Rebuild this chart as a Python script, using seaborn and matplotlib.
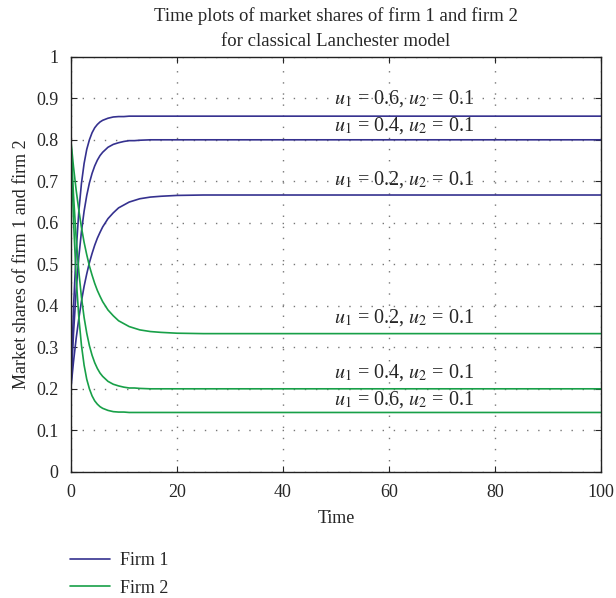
import pandas as pd
import numpy as np
import matplotlib
matplotlib.use('Agg')
import matplotlib.pyplot as plt
import seaborn as sns

# ------------------------------------------------------------
# values
# ------------------------------------------------------------
time = [0, 0.5, 1, 1.5, 2, 2.5, 3, 3.5, 4, 4.5, 5, 5.5, 6, 7, 8, 9, 10, 11, 12, 13,
        15, 17, 20, 25, 30, 40, 60, 80, 100]

firm1_u06 = [0.200, 0.394, 0.531, 0.627, 0.695, 0.743, 0.777, 0.800, 0.817, 0.829,
             0.837, 0.843, 0.847, 0.852, 0.855, 0.856, 0.856, 0.857, 0.857, 0.857,
             0.857, 0.857, 0.857, 0.857, 0.857, 0.857, 0.857, 0.857, 0.857]
firm1_u04 = [0.200, 0.333, 0.436, 0.517, 0.579, 0.628, 0.666, 0.696, 0.719, 0.737,
             0.751, 0.762, 0.770, 0.782, 0.789, 0.793, 0.796, 0.798, 0.798, 0.799,
             0.800, 0.800, 0.800, 0.800, 0.800, 0.800, 0.800, 0.800, 0.800]
firm1_u02 = [0.200, 0.265, 0.321, 0.369, 0.411, 0.447, 0.477, 0.504, 0.526, 0.546,
             0.563, 0.577, 0.590, 0.610, 0.624, 0.636, 0.643, 0.650, 0.654, 0.658,
             0.662, 0.664, 0.666, 0.667, 0.667, 0.667, 0.667, 0.667, 0.667]

firm2_u06 = [0.800, 0.606, 0.469, 0.373, 0.305, 0.257, 0.223, 0.200, 0.183, 0.171,
             0.163, 0.157, 0.153, 0.148, 0.145, 0.144, 0.144, 0.143, 0.143, 0.143,
             0.143, 0.143, 0.143, 0.143, 0.143, 0.143, 0.143, 0.143, 0.143]
firm2_u04 = [0.800, 0.667, 0.564, 0.483, 0.421, 0.372, 0.334, 0.304, 0.281, 0.263,
             0.249, 0.238, 0.230, 0.218, 0.211, 0.207, 0.204, 0.202, 0.202, 0.201,
             0.200, 0.200, 0.200, 0.200, 0.200, 0.200, 0.200, 0.200, 0.200]
firm2_u02 = [0.800, 0.735, 0.679, 0.631, 0.589, 0.553, 0.523, 0.496, 0.474, 0.454,
             0.437, 0.423, 0.410, 0.390, 0.376, 0.364, 0.357, 0.350, 0.346, 0.342,
             0.338, 0.336, 0.334, 0.333, 0.333, 0.333, 0.333, 0.333, 0.333]

cases = ['u1=0.6', 'u1=0.4', 'u1=0.2']
labels = [r'$u_1$ = 0.6, $u_2$ = 0.1', r'$u_1$ = 0.4, $u_2$ = 0.1', r'$u_1$ = 0.2, $u_2$ = 0.1']

# long-form table for seaborn
rows = []
for case, s1, s2 in zip(cases, [firm1_u06, firm1_u04, firm1_u02], [firm2_u06, firm2_u04, firm2_u02]):
    for t, a, b in zip(time, s1, s2):
        rows.append({'Time': t, 'share': a, 'firm': 'Firm 1', 'case': case})
        rows.append({'Time': t, 'share': b, 'firm': 'Firm 2', 'case': case})
df = pd.DataFrame(rows)

# ------------------------------------------------------------
# plot
# ------------------------------------------------------------
sns.set_style('ticks')
plt.rcParams['font.family'] = ['Liberation Serif', 'DejaVu Serif']
plt.rcParams['mathtext.fontset'] = 'stix'

fig = plt.figure(figsize=(6.16, 5.98), dpi=100)
ax = fig.add_axes([0.115, 0.211, 0.861, 0.694])

palette = {'Firm 1': '#35318f', 'Firm 2': '#18a048'}
sns.lineplot(data=df, x='Time', y='share', hue='firm', units='case', estimator=None,
             palette=palette, linewidth=1.2, ax=ax, sort=False)

ax.set_xlim(0, 100)
ax.set_ylim(0, 1)
ax.set_xticks(np.arange(0, 101, 20))
ax.set_yticks(np.arange(0, 1.01, 0.1))
ax.set_yticklabels(['0', '0.1', '0.2', '0.3', '0.4', '0.5', '0.6', '0.7', '0.8', '0.9', '1'])
ax.grid(True, linestyle=(0, (1, 7)), color='#777777', linewidth=1.0)
ax.tick_params(direction='in', top=True, right=True, labelsize=13, length=4, pad=9)
for sp in ax.spines.values():
    sp.set_linewidth(1.0)
    sp.set_color('#222222')

ax.set_xlabel('Time', fontsize=13, labelpad=6)
ax.set_ylabel('Market shares of firm 1 and firm 2', fontsize=13)
ax.set_title('Time plots of market shares of firm 1 and firm 2\nfor classical Lanchester model',
             fontsize=13.5, pad=8, linespacing=1.6)

# curve annotations
ann_y1 = [0.900, 0.834, 0.704]
ann_y2 = [0.173, 0.239, 0.371]
for lab, y1, y2 in zip(labels, ann_y1, ann_y2):
    ax.text(49.6, y1, lab, fontsize=14.5, va='center', ha='left')
    ax.text(49.6, y2, lab, fontsize=14.5, va='center', ha='left')

# legend below the axes
handles, leg_labels = ax.get_legend_handles_labels()
ax.legend_.remove()
fig.legend(handles, leg_labels, loc='lower left', bbox_to_anchor=(0.087, -0.025),
           frameon=False, fontsize=13, handlelength=2.2, handletextpad=0.6,
           labelspacing=0.6)

plt.savefig('out.png', dpi=100)
plt.close()
